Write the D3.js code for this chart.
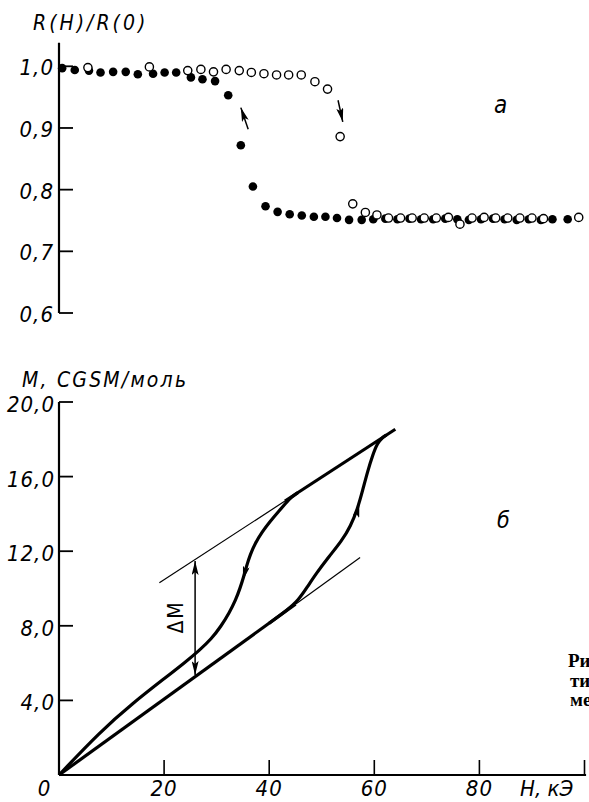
<!DOCTYPE html>
<html><head><meta charset="utf-8">
<script src="https://cdn.jsdelivr.net/npm/d3@7"></script>
<style>body{margin:0;background:#fff} svg{display:block}</style>
</head><body>
<svg id="c" width="589" height="802"></svg>
<script>
// ---------- data ----------
const hTicks = [20, 40, 60, 80, 100];
const hTickLabels = ["20", "40", "60", "80", ""];
const rTicks = [0.6, 0.7, 0.8, 0.9, 1.0];
const mTicks = [4, 8, 12, 16, 20];

// panel a: filled and open points
const filledH = [0.6,3.0,5.7,7.9,10.3,12.7,15.0,17.9,20.1,22.3,25.1,27.3,29.7,32.2,34.6,36.9,39.3,41.6,43.9,46.2,48.5,50.7,52.9,55.2,57.6,59.8,62.1,64.4,66.7,68.9,71.2,73.5,75.8,78.0,80.3,82.6,84.8,87.1,89.4,91.7,93.9,96.8];
const filledR = [0.997,0.994,0.993,0.990,0.991,0.991,0.987,0.988,0.990,0.990,0.982,0.979,0.976,0.953,0.872,0.805,0.773,0.764,0.760,0.758,0.756,0.756,0.754,0.751,0.751,0.752,0.753,0.752,0.753,0.752,0.752,0.753,0.752,0.751,0.752,0.753,0.752,0.751,0.752,0.751,0.752,0.752];
const openH = [5.5,17.2,24.5,27.0,29.4,31.8,34.3,36.6,39.0,41.4,43.7,46.1,48.7,51.1,53.5,55.9,58.3,60.5,62.7,65.0,67.2,69.5,71.8,74.1,76.3,78.6,80.9,83.1,85.4,87.7,90.0,92.2,98.9];
const openR = [0.998,0.999,0.993,0.995,0.991,0.995,0.993,0.990,0.988,0.986,0.986,0.986,0.975,0.963,0.886,0.777,0.763,0.759,0.754,0.754,0.754,0.754,0.754,0.755,0.744,0.754,0.755,0.754,0.754,0.754,0.754,0.753,0.755];
const arrowsA = [ {h:[36.0,34.6], r:[0.898,0.933]}, {h:[53.1,54.0], r:[0.945,0.910]} ];

// panel б: magnetisation loop
const upperLineH = [19.1, 43.0, 64.0];
const upperLineM = [10.31, 14.69, 18.54];
const lowerLineH = [0, 45.0, 57.3];
const lowerLineM = [0, 9.16, 11.66];
const ascH = [40.0,43.5,45.5,47.3,48.8,51.3,53.8,55.5,56.8,57.8,58.7,59.7,60.6,61.55,62.3];
const ascM = [8.14,8.86,9.35,10.1,10.75,11.69,12.55,13.35,14.26,15.28,16.25,17.16,17.80,18.1,18.23];
const descH = [0,7.77,14.07,20.4,23.86,26.7,28.98,30.87,32.39,33.62,34.47,35.13,35.7,36.36,37.31,38.64,40.15,41.86,43.37,44.0,45.5];
const descM = [0,2.31,3.86,5.25,6.01,6.68,7.29,7.99,8.69,9.38,10.03,10.62,11.21,11.80,12.41,13.03,13.59,14.16,14.64,14.85,15.15];
const curveArrows = [ {h:[35.45,35.0], m:[10.95,10.45]}, {h:[56.6,57.15], m:[13.95,14.55]} ];
const deltaM = {h:25.9, m:[5.36, 11.47]};

// ---------- drawing ----------
const svg = d3.select("#c");
const FONT = "'DejaVu Sans Condensed','DejaVu Sans',sans-serif";
const x = d3.scaleLinear().domain([0, 100]).range([59, 584.5]);
const yA = d3.scaleLinear().domain([0.6, 1.0]).range([313, 66.3]);
const yB = d3.scaleLinear().domain([0, 20]).range([775, 402]);
const comma = v => d3.format(".1f")(v).replace(".", ",");

const defs = svg.append("defs");
defs.append("marker").attr("id","ah").attr("viewBox","0 0 14 7").attr("refX",14).attr("refY",3.5)
  .attr("markerWidth",14).attr("markerHeight",7).attr("markerUnits","userSpaceOnUse").attr("orient","auto")
  .append("path").attr("d","M0,0 L14,3.5 L0,7 L3,3.5 Z").attr("fill","#000");
defs.append("marker").attr("id","ahs").attr("viewBox","0 0 14 7").attr("refX",0).attr("refY",3.5)
  .attr("markerWidth",14).attr("markerHeight",7).attr("markerUnits","userSpaceOnUse").attr("orient","auto")
  .append("path").attr("d","M14,0 L0,3.5 L14,7 L11,3.5 Z").attr("fill","#000");

function txt(g, s, px, py, opts={}) {
  return g.append("text").attr("x", px).attr("y", py).text(s)
    .attr("font-family", opts.family || FONT).attr("font-style", opts.style || "italic")
    .attr("font-weight", opts.weight || "normal")
    .attr("letter-spacing", opts.ls || 0)
    .attr("font-size", opts.size || 20).attr("text-anchor", opts.anchor || "start")
    .attr("fill", "#000");
}

// ---- panel a ----
const gA = svg.append("g");
gA.append("line").attr("x1", x(0)).attr("x2", x(0)).attr("y1", yA(1.038)).attr("y2", yA(0.6))
  .attr("stroke","#000").attr("stroke-width",2.2);
gA.selectAll(".ta").data(rTicks).join("line")
  .attr("x1", x(0)).attr("x2", x(0) + 14).attr("y1", d => yA(d)).attr("y2", d => yA(d))
  .attr("stroke","#000").attr("stroke-width",1.8);
gA.selectAll(".la").data(rTicks).join("text")
  .attr("x", 54).attr("y", d => yA(d) + 9).text(d => comma(d))
  .attr("font-family", FONT).attr("font-style","italic").attr("font-size",22)
  .attr("letter-spacing",1).attr("text-anchor","end");
txt(gA, "R(H)/R(0)", 33, 30, {size:21, ls:3});
txt(gA, "а", 494, 113, {size:24});

gA.selectAll(".fd").data(filledH).join("circle")
  .attr("cx", d => x(d)).attr("cy", (d,i) => yA(filledR[i])).attr("r", 4.3).attr("fill","#000");
gA.selectAll(".od").data(openH).join("circle")
  .attr("cx", d => x(d)).attr("cy", (d,i) => yA(openR[i])).attr("r", 4.1)
  .attr("fill","#fff").attr("stroke","#000").attr("stroke-width",1.4);
arrowsA.forEach(a => {
  gA.append("line").attr("x1", x(a.h[0])).attr("y1", yA(a.r[0])).attr("x2", x(a.h[1])).attr("y2", yA(a.r[1]))
    .attr("stroke","#000").attr("stroke-width",1.5).attr("marker-end","url(#ah)");
});

// ---- panel б ----
const gB = svg.append("g");
gB.append("line").attr("x1", x(0)).attr("x2", x(0)).attr("y1", yB(20)).attr("y2", yB(0))
  .attr("stroke","#000").attr("stroke-width",2.2);
gB.append("line").attr("x1", x(0)).attr("x2", x(100.3)).attr("y1", yB(0)).attr("y2", yB(0))
  .attr("stroke","#000").attr("stroke-width",2.2);
gB.selectAll(".tb").data(mTicks).join("line")
  .attr("x1", x(0)).attr("x2", x(0) + 14).attr("y1", d => yB(d)).attr("y2", d => yB(d))
  .attr("stroke","#000").attr("stroke-width",1.8);
gB.selectAll(".lb").data(mTicks).join("text")
  .attr("x", 55).attr("y", d => yB(d) + 10).text(d => comma(d))
  .attr("font-family", FONT).attr("font-style","italic").attr("font-size",22)
  .attr("letter-spacing",1).attr("text-anchor","end");
gB.selectAll(".tx").data(hTicks).join("line")
  .attr("x1", d => x(d)).attr("x2", d => x(d)).attr("y1", yB(0)).attr("y2", yB(0) - 15)
  .attr("stroke","#000").attr("stroke-width",1.6);
gB.selectAll(".lx").data(hTicks).join("text")
  .attr("x", d => x(d)).attr("y", 796).text((d,i) => hTickLabels[i])
  .attr("font-family", FONT).attr("font-style","italic").attr("font-size",22)
  .attr("letter-spacing",1).attr("text-anchor","middle");
txt(gB, "0", 44, 796, {size:22, anchor:"middle"});
txt(gB, "H, кЭ", 520, 796, {size:22});
txt(gB, "M, CGSM/моль", 22, 387, {size:21, ls:2.2});
txt(gB, "б", 497, 528, {size:23});

const line = d3.line().x(d => x(d[0])).y(d => yB(d[1]));
const curve = d3.line().x(d => x(d[0])).y(d => yB(d[1])).curve(d3.curveBasis);
const pts = (hs, ms) => hs.map((h,i) => [h, ms[i]]);
const up = pts(upperLineH, upperLineM), lo = pts(lowerLineH, lowerLineM);
gB.append("path").attr("d", line(up.slice(0,2))).attr("fill","none").attr("stroke","#000").attr("stroke-width",1.2);
gB.append("path").attr("d", line(up.slice(1))).attr("fill","none").attr("stroke","#000").attr("stroke-width",3.2);
gB.append("path").attr("d", line(lo.slice(0,2))).attr("fill","none").attr("stroke","#000").attr("stroke-width",3.2);
gB.append("path").attr("d", line(lo.slice(1))).attr("fill","none").attr("stroke","#000").attr("stroke-width",1.2);
gB.append("path").attr("d", curve(pts(ascH, ascM))).attr("fill","none").attr("stroke","#000").attr("stroke-width",3.2);
gB.append("path").attr("d", curve(pts(descH, descM))).attr("fill","none").attr("stroke","#000").attr("stroke-width",3.2);
curveArrows.forEach(a => {
  gB.append("line").attr("x1", x(a.h[0])).attr("y1", yB(a.m[0])).attr("x2", x(a.h[1])).attr("y2", yB(a.m[1]))
    .attr("stroke","none").attr("marker-end","url(#ah)");
});
gB.append("line").attr("x1", x(deltaM.h)).attr("x2", x(deltaM.h))
  .attr("y1", yB(deltaM.m[0])).attr("y2", yB(deltaM.m[1]))
  .attr("stroke","#000").attr("stroke-width",1.5)
  .attr("marker-start","url(#ahs)").attr("marker-end","url(#ah)");
gB.append("text").attr("transform", "translate(183,617) rotate(-90)").text("ΔM")
  .attr("font-family", FONT).attr("font-style","normal").attr("font-size",21)
  .attr("letter-spacing",2).attr("text-anchor","middle");

// cut-off caption on the right
const serif = {family:"'Liberation Serif','DejaVu Serif',serif", style:"normal", weight:"bold", size:19};
txt(svg, "Рис.", 568, 667, serif);
txt(svg, "тич", 570, 687, serif);
txt(svg, "мет", 570, 706, serif);
</script>
</body></html>
